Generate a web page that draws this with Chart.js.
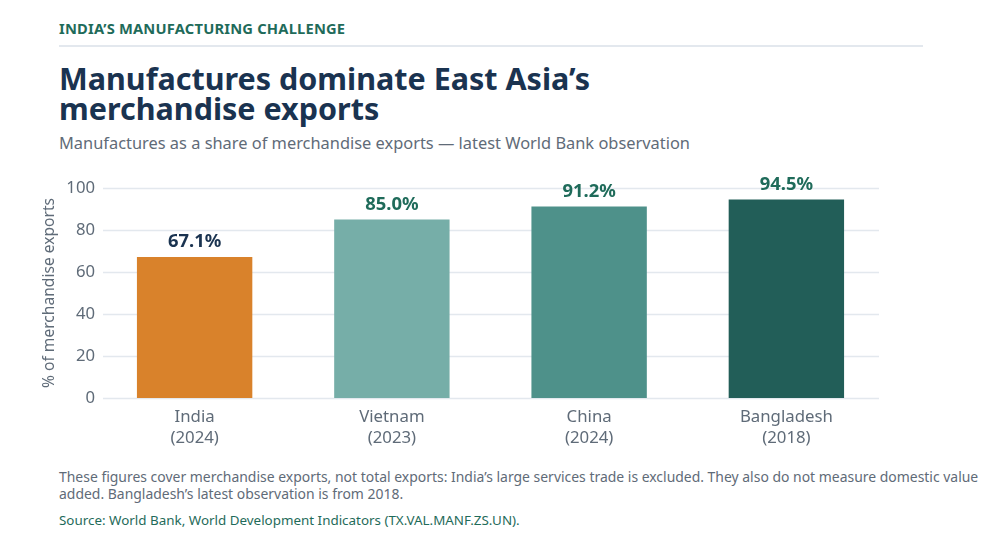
<!DOCTYPE html>
<html>
<head>
<meta charset="utf-8">
<script src="https://cdn.jsdelivr.net/npm/chart.js@4.4.1/dist/chart.umd.min.js"></script>
<style>
  html, body { margin: 0; padding: 0; background: #fff; }
  body { width: 983px; height: 554px; position: relative; overflow: hidden; font-family: "Noto Sans", sans-serif; }
  .kicker { position: absolute; left: 59px; top: 18px; font-size: 14.7px; font-weight: 700; color: #1f6b5a; letter-spacing: 0.2px; }
  .rule { position: absolute; left: 59px; top: 45px; width: 864px; height: 2px; background: #e3e8ee; }
  .title { position: absolute; left: 59px; top: 64px; font-size: 30.5px; line-height: 29.5px; font-weight: 700; color: #1a3350; }
  .sub { position: absolute; left: 59px; top: 131px; font-size: 16.4px; color: #5f6b78; }
  .chartbox { position: absolute; left: 0; top: 165px; width: 983px; height: 290px; }
  .note { position: absolute; left: 59px; top: 468px; font-size: 13.95px; line-height: 17px; color: #5f6b78; white-space: nowrap; }
  .src { position: absolute; left: 59px; top: 511px; font-size: 13.4px; color: #1f6b5a; }
</style>
</head>
<body>
<div class="kicker">INDIA’S MANUFACTURING CHALLENGE</div>
<div class="rule"></div>
<div class="title">Manufactures dominate East Asia’s<br>merchandise exports</div>
<div class="sub">Manufactures as a share of merchandise exports — latest World Bank observation</div>
<div class="chartbox"><canvas id="myChart" width="983" height="290"></canvas></div>
<div class="note">These figures cover merchandise exports, not total exports: India’s large services trade is excluded. They also do not measure domestic value<br>added. Bangladesh’s latest observation is from 2018.</div>
<div class="src">Source: World Bank, World Development Indicators (TX.VAL.MANF.ZS.UN).</div>
<script>
const countries = ["India", "Vietnam", "China", "Bangladesh"];
const years = ["(2024)", "(2023)", "(2024)", "(2018)"];
const shares = [67.1, 85.0, 91.2, 94.5];
const barColors = ["#d9822b", "#76aea8", "#4e918a", "#225e58"];
const labelColors = ["#1a3350", "#1f6b5a", "#1f6b5a", "#1f6b5a"];
const yTicks = [0, 20, 40, 60, 80, 100];

document.addEventListener("DOMContentLoaded", function () {
    const ctx = document.getElementById("myChart").getContext("2d");

    // horizontal grid lines, a little inset from the category band edges
    const gridPlugin = {
        id: "insetGrid",
        beforeDatasetsDraw(chart) {
            const y = chart.scales.y;
            const c = chart.ctx;
            c.save();
            c.strokeStyle = "#e3e8ee";
            c.lineWidth = 1.5;
            yTicks.forEach((v) => {
                const py = Math.round(y.getPixelForValue(v)) + 0.5;
                c.beginPath();
                c.moveTo(103, py);
                c.lineTo(879, py);
                c.stroke();
            });
            c.restore();
        },
    };

    // value labels above bars
    const valuePlugin = {
        id: "valueLabels",
        afterDatasetsDraw(chart) {
            const meta = chart.getDatasetMeta(0);
            const c = chart.ctx;
            c.save();
            c.font = "700 18.4px 'Noto Sans'";
            c.textAlign = "center";
            c.textBaseline = "middle";
            meta.data.forEach((bar, i) => {
                c.fillStyle = labelColors[i];
                c.fillText(shares[i].toFixed(1) + "%", bar.x, bar.y - 15);
            });
            c.restore();
        },
    };

    const config = {
        type: "bar",
        data: {
            labels: countries.map((c, i) => [c, years[i]]),
            datasets: [
                {
                    data: shares,
                    backgroundColor: barColors,
                    borderWidth: 0,
                    categoryPercentage: 1,
                    barPercentage: 0.585,
                },
            ],
        },
        options: {
            responsive: false,
            animation: false,
            layout: { padding: { top: 23, right: 98, bottom: 0, left: 0 } },
            plugins: { legend: { display: false }, tooltip: { enabled: false } },
            scales: {
                x: {
                    grid: { display: false },
                    border: { display: false },
                    ticks: {
                        color: "#5f6b78",
                        font: { family: "Noto Sans", size: 16.8, lineHeight: 1.25 },
                        padding: 1,
                        maxRotation: 0,
                    },
                    afterFit: (s) => { s.height = 57; },
                },
                y: {
                    min: 0,
                    max: 100,
                    afterBuildTicks: (s) => { s.ticks = yTicks.map((v) => ({ value: v })); },
                    grid: { display: false },
                    border: { display: false },
                    ticks: {
                        color: "#5f6b78",
                        font: { family: "Noto Sans", size: 16.7 },
                        padding: -7,
                    },
                    title: {
                        display: true,
                        text: "% of merchandise exports",
                        color: "#5f6b78",
                        font: { family: "Noto Sans", size: 15.6 },
                        padding: { top: 40, bottom: 0 },
                    },
                    afterFit: (s) => { s.width = 96; },
                },
            },
        },
        plugins: [gridPlugin, valuePlugin],
    };

    new Chart(ctx, config);
});
</script>
</body>
</html>
